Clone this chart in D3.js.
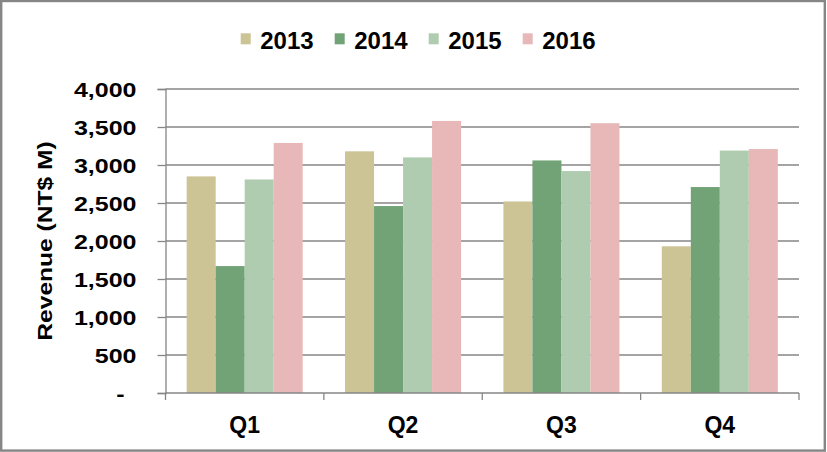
<!DOCTYPE html>
<html>
<head>
<meta charset="utf-8">
<script src="https://cdn.jsdelivr.net/npm/d3@7"></script>
<style>
  html, body { margin: 0; padding: 0; background: #fff; }
  svg { display: block; font-family: "Liberation Sans", Arial, sans-serif; font-weight: bold; }
</style>
</head>
<body>
<svg id="chart" width="827" height="452"></svg>
<script>
const quarters = ["Q1", "Q2", "Q3", "Q4"];
const years = ["2013", "2014", "2015", "2016"];
const rev2013 = [2850, 3180, 2520, 1930];
const rev2014 = [1670, 2460, 3060, 2710];
const rev2015 = [2810, 3100, 2920, 3190];
const rev2016 = [3290, 3580, 3550, 3210];
const yTicks = [0, 500, 1000, 1500, 2000, 2500, 3000, 3500, 4000];
const yTickLabels = ["-", "500", "1,000", "1,500", "2,000", "2,500", "3,000", "3,500", "4,000"];
const yTitle = "Revenue (NT$ M)";
const colors = ["#CCC494", "#71A377", "#B0CCB0", "#E8B8B8"];

const seriesValues = [rev2013, rev2014, rev2015, rev2016];
const data = quarters.map((q, i) => ({
  q, vals: years.map((y, j) => ({ year: y, j, v: seriesValues[j][i] }))
}));

// widen text along its direction by a factor
function stretch(sel, f) {
  sel.each(function () {
    const w = this.getComputedTextLength();
    d3.select(this).attr("textLength", w * f).attr("lengthAdjust", "spacingAndGlyphs");
  });
}

const svg = d3.select("#chart");
const W = 827, H = 452;
const m = { left: 165.5, right: 799, top: 89, bottom: 393 };

// outer frame
svg.append("rect").attr("x", 1.2).attr("y", 1).attr("width", W - 3.4).attr("height", H - 2.4)
  .attr("fill", "#fff").attr("stroke", "#868686").attr("stroke-width", 2.4);

const x = d3.scaleBand().domain(quarters).range([m.left, m.right]).paddingInner(0).paddingOuter(0);
const xs = d3.scaleBand().domain(years).range([0, x.bandwidth()]).paddingInner(0).paddingOuter(0.73);
const y = d3.scaleLinear().domain([0, 4000]).range([m.bottom, m.top]);

// gridlines
svg.append("g").selectAll("line").data(yTicks.filter(t => t > 0)).join("line")
  .attr("x1", m.left).attr("x2", m.right)
  .attr("y1", d => y(d)).attr("y2", d => y(d))
  .attr("stroke", "#868686").attr("stroke-width", 1.3);

// bars
const groups = svg.append("g").selectAll("g").data(data).join("g")
  .attr("transform", d => `translate(${x(d.q)},0)`);
groups.selectAll("rect").data(d => d.vals).join("rect")
  .attr("x", d => xs(d.year)).attr("width", xs.bandwidth())
  .attr("y", d => y(d.v)).attr("height", d => y(0) - y(d.v))
  .attr("fill", d => colors[d.j]);

// y axis
const yAxis = d3.axisLeft(y).tickValues(yTicks)
  .tickFormat((d, i) => yTickLabels[i]).tickSize(8).tickPadding(21);
const gy = svg.append("g").attr("transform", `translate(${m.left},0)`).call(yAxis);
gy.select(".domain").attr("stroke", "#868686").attr("stroke-width", 1.3);
gy.selectAll(".tick line").attr("stroke", "#868686").attr("stroke-width", 1.3);
const tickTexts = gy.selectAll(".tick text").attr("font-size", 20).attr("font-weight", "bold")
  .attr("font-family", "Liberation Sans, Arial, sans-serif").attr("fill", "#000")
  .attr("dy", "0.36em")
  .attr("dx", (d) => d === 0 ? -12 : 0);
stretch(tickTexts, 1.25);

// x axis
const gx = svg.append("g").attr("transform", `translate(0,${m.bottom})`);
gx.append("line").attr("x1", m.left).attr("x2", m.right).attr("y1", 0).attr("y2", 0)
  .attr("stroke", "#868686").attr("stroke-width", 1.3);
const bounds = quarters.map(q => x(q)).concat([x(quarters[3]) + x.bandwidth()]);
gx.selectAll("line.tk").data(bounds).join("line").attr("class", "tk")
  .attr("x1", d => d).attr("x2", d => d).attr("y1", 0).attr("y2", 7)
  .attr("stroke", "#868686").attr("stroke-width", 1.3);
gx.selectAll("text").data(quarters).join("text")
  .attr("x", d => x(d) + x.bandwidth() / 2).attr("y", 39.5)
  .attr("text-anchor", "middle").attr("font-size", 23).attr("fill", "#000").text(d => d);

// y title
const yt = svg.append("text").attr("transform", `translate(52,241) rotate(-90)`)
  .attr("text-anchor", "middle").attr("font-size", 21).attr("fill", "#000").text(yTitle);
stretch(yt, 1.17);

// legend
const leg = svg.append("g").attr("transform", "translate(240.7,0)");
const li = leg.selectAll("g").data(years).join("g").attr("transform", (d, i) => `translate(${i * 94},0)`);
li.append("rect").attr("x", 0).attr("y", 33.3).attr("width", 10).attr("height", 11)
  .attr("fill", (d, i) => colors[i]);
li.append("text").attr("x", 19.5).attr("y", 48.7).attr("font-size", 24).attr("fill", "#000").text(d => d);
</script>
</body>
</html>
